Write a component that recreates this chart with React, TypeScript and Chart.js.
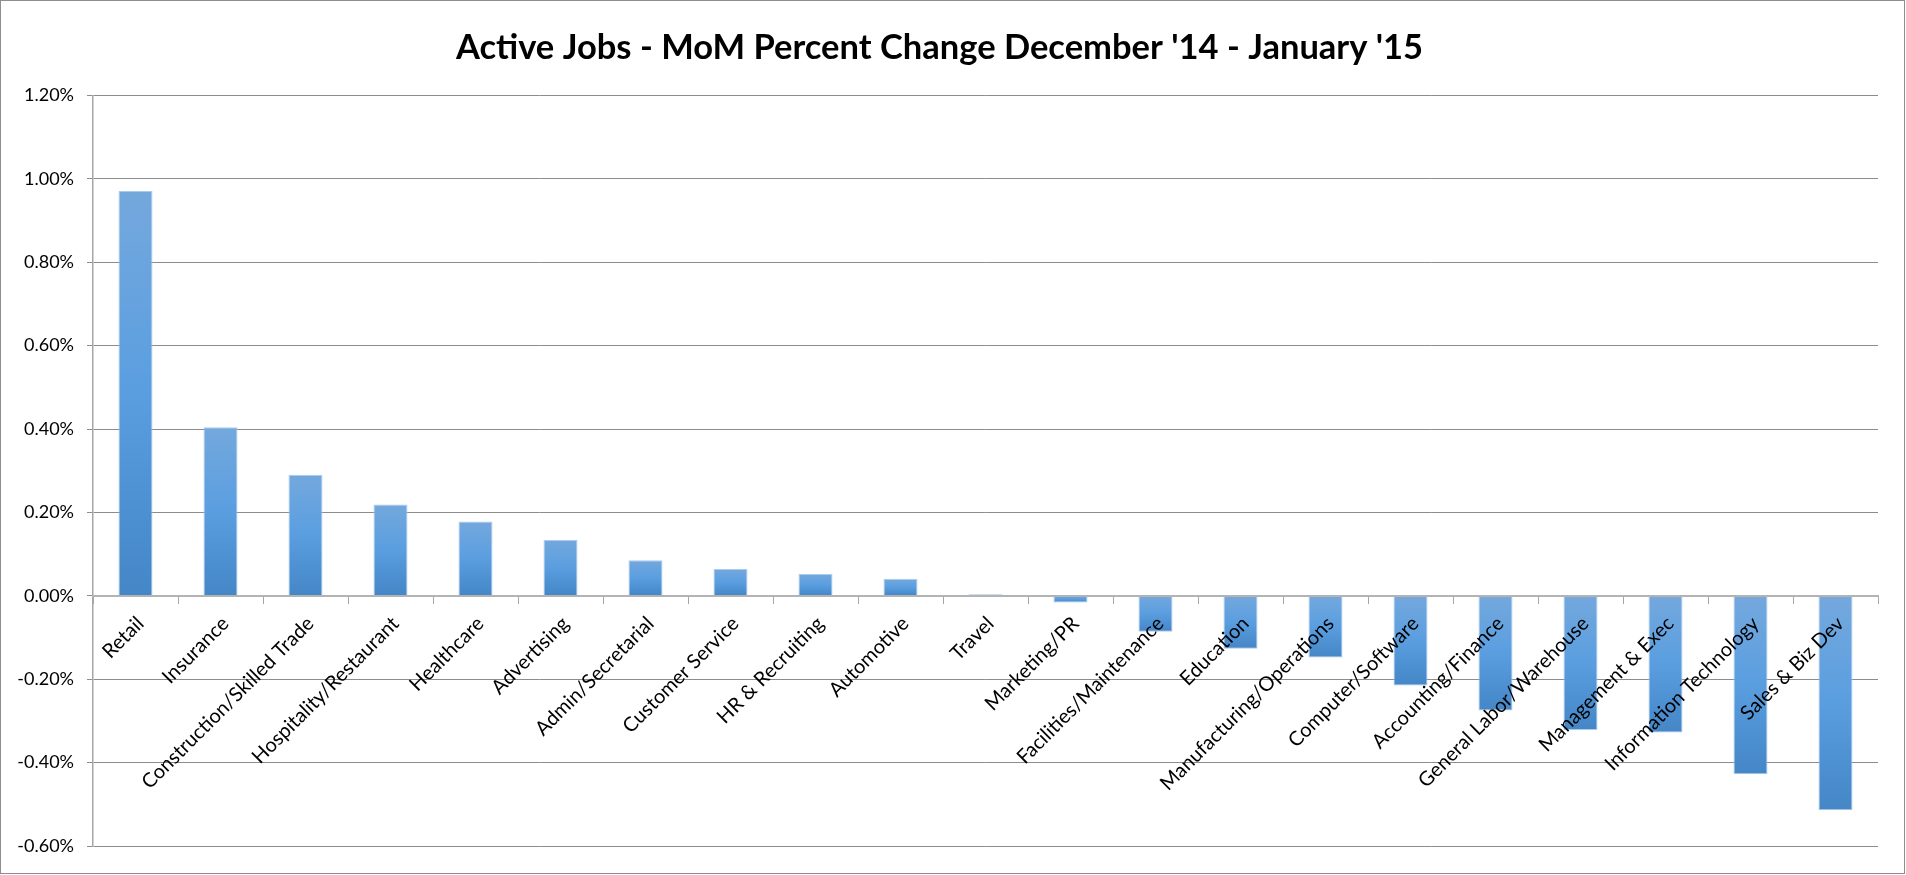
import React, { useEffect, useRef } from "react";
import { Chart, registerables } from "chart.js";

Chart.register(...registerables);

const TITLE = "Active Jobs - MoM Percent Change December '14 - January '15";

const categories: string[] = [
  "Retail",
  "Insurance",
  "Construction/Skilled Trade",
  "Hospitality/Restaurant",
  "Healthcare",
  "Advertising",
  "Admin/Secretarial",
  "Customer Service",
  "HR & Recruiting",
  "Automotive",
  "Travel",
  "Marketing/PR",
  "Facilities/Maintenance",
  "Education",
  "Manufacturing/Operations",
  "Computer/Software",
  "Accounting/Finance",
  "General Labor/Warehouse",
  "Management & Exec",
  "Information Technology",
  "Sales & Biz Dev",
];

// MoM percent change (in %)
const changeValues: number[] = [
  0.971, 0.404, 0.29, 0.219, 0.178, 0.134, 0.085, 0.064, 0.053, 0.041, 0.004,
  -0.016, -0.086, -0.127, -0.148, -0.215, -0.275, -0.322, -0.328, -0.428, -0.514,
];

const yMin = -0.6;
const yMax = 1.2;
const yStep = 0.2;

export default function App() {
  const canvasRef = useRef<HTMLCanvasElement | null>(null);

  useEffect(() => {
    if (!canvasRef.current) return;
    const chart = new Chart(canvasRef.current, {
      type: "bar",
      data: {
        labels: categories,
        datasets: [
          {
            data: changeValues,
            backgroundColor: (ctx: any) => {
              const c = ctx.chart;
              const ys = c.scales?.y;
              if (!c.chartArea || !ys) return "#5a9ee0";
              const v = ctx.raw as number;
              const top = ys.getPixelForValue(Math.max(v, 0));
              const bot = ys.getPixelForValue(Math.min(v, 0));
              if (!isFinite(top) || !isFinite(bot) || bot - top < 1) return "#5a9ee0";
              const g = c.ctx.createLinearGradient(0, top, 0, bot);
              g.addColorStop(0, "#74a8dd");
              g.addColorStop(0.5, "#5a9ee0");
              g.addColorStop(1, "#4486c6");
              return g;
            },
            borderColor: "#a9cbee",
            borderWidth: 1,
            barPercentage: 0.4,
            categoryPercentage: 1,
          },
        ],
      },
      options: {
        animation: false,
        responsive: true,
        maintainAspectRatio: false,
        layout: { padding: { left: 0, right: 26, top: 0, bottom: 27 } },
        plugins: {
          legend: { display: false },
          tooltip: { enabled: false },
          title: {
            display: true,
            text: TITLE,
            color: "#000",
            font: { family: "Lato", size: 34.5, weight: "bold" },
            padding: { top: 26, bottom: 27 },
          },
        },
        scales: {
          x: {
            type: "category",
            position: { y: 0 } as any,
            afterFit: (scale: any) => {
              scale.height = 0;
            },
            grid: {
              drawOnChartArea: false,
              drawTicks: true,
              tickLength: 7,
              color: "#a6a6a6",
              offset: true,
              z: 1,
            },
            border: { display: true, color: "#b3b3b3", width: 2, z: 1 },
            ticks: {
              autoSkip: false,
              minRotation: 45,
              maxRotation: 45,
              padding: 9,
              labelOffset: 5,
              color: "#000",
              font: { family: "Lato", size: 20 },
              z: 1,
            },
          },
          y: {
            min: yMin,
            max: yMax,
            afterFit: (scale: any) => {
              scale.width = 92;
            },
            grid: {
              color: "#8c8c8c",
              lineWidth: 1,
              drawTicks: true,
              tickLength: 6,
            },
            border: { display: true, color: "#a6a6a6", width: 1.5 },
            ticks: {
              stepSize: yStep,
              padding: 13,
              color: "#000",
              font: { family: "Lato", size: 18 },
              callback: (v: any) => Number(v).toFixed(2) + "%",
            },
          },
        },
      },
    });
    return () => chart.destroy();
  }, []);

  return (
    <div
      style={{
        position: "fixed",
        left: 0,
        top: 0,
        width: 1905,
        height: 874,
        boxSizing: "border-box",
        border: "1px solid #8e8e8e",
        background: "#fff",
      }}
    >
      <div style={{ position: "relative", width: "100%", height: "100%" }}>
        <canvas ref={canvasRef} />
      </div>
    </div>
  );
}
